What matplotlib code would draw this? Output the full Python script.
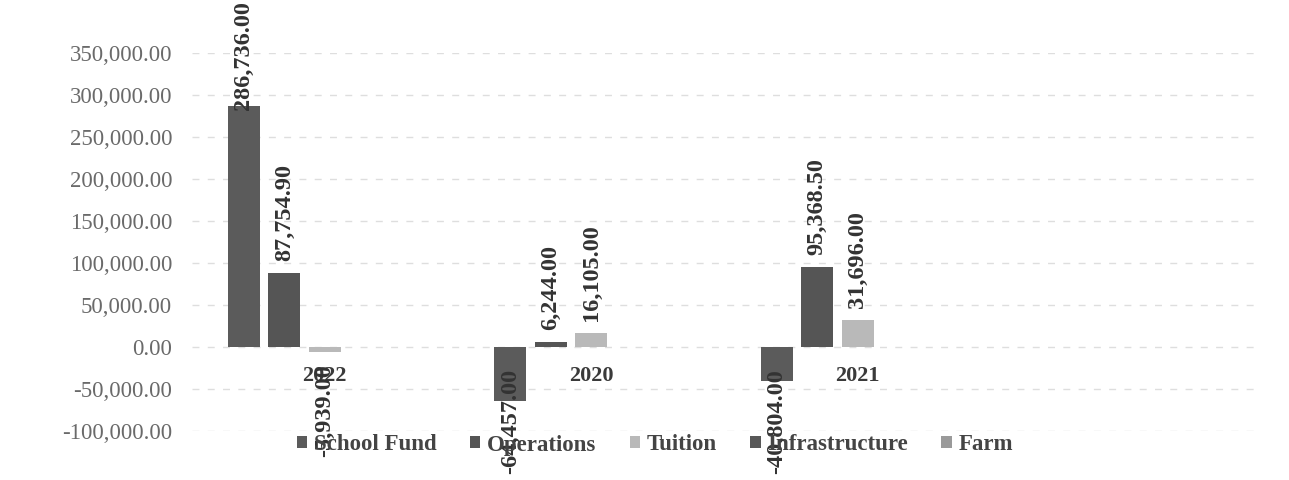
import numpy as np
import matplotlib
matplotlib.use("Agg")
import matplotlib.pyplot as plt
from matplotlib.patches import Patch
from matplotlib.ticker import FuncFormatter, MultipleLocator

# ---- data ----
categories = ["2022", "2020", "2021", ""]
series_names = ["School Fund", "Operations", "Tuition", "Infrastructure", "Farm"]
school_fund = [286736.00, -64457.00, -40804.00, np.nan]
operations = [87754.90, 6244.00, 95368.50, np.nan]
tuition = [-5939.00, 16105.00, 31696.00, np.nan]
infrastructure = [np.nan, np.nan, np.nan, np.nan]
farm = [np.nan, np.nan, np.nan, np.nan]
series_values = [school_fund, operations, tuition, infrastructure, farm]
series_colors = ["#5b5b5b", "#555555", "#b9b9b9", "#585858", "#9a9a9a"]

W, H, DPI = 1289, 480, 100
fig = plt.figure(figsize=(W / DPI, H / DPI), dpi=DPI)
fig.patch.set_facecolor("white")
ax = fig.add_axes([191.5 / W, 49 / H, 1066 / W, 378 / H])

FONT = ["Liberation Serif", "DejaVu Serif"]

x = np.arange(len(categories))
slot = 0.152
width = 0.12
offsets = (np.arange(len(series_names)) - 2) * slot

bars_all = []
for vals, off, col in zip(series_values, offsets, series_colors):
    v = np.array(vals, dtype=float)
    ax.bar(x + off, np.nan_to_num(v, nan=0.0), width=width, color=col,
           zorder=3, linewidth=0)
    bars_all.append((x + off, v))

ax.set_xlim(-0.5, len(categories) - 0.5)
ax.set_ylim(-100000, 350000)
ax.yaxis.set_major_locator(MultipleLocator(50000))
ax.yaxis.set_major_formatter(FuncFormatter(lambda v, p: f"{v:,.2f}"))

for s in ax.spines.values():
    s.set_visible(False)
ax.spines["bottom"].set_position(("data", 0))
ax.set_xticks(x)
ax.set_xticklabels(categories)
ax.tick_params(axis="x", length=0, pad=14)
ax.tick_params(axis="y", length=0, pad=14)
for lab in ax.get_xticklabels():
    lab.set_fontfamily(FONT)
    lab.set_fontsize(16)
    lab.set_fontweight("bold")
    lab.set_color("#3a3a3a")
for lab in ax.get_yticklabels():
    lab.set_fontfamily(FONT)
    lab.set_fontsize(16.5)
    lab.set_color("#6a6a6a")

ax.yaxis.grid(True, color="#dedede", linewidth=1.0, linestyle=(0, (5, 6)))
ax.set_axisbelow(True)

# ---- data labels ----
texts = []
off_pt = 12 * 72 / DPI
for xs, vs in bars_all:
    for xi, vi in zip(xs, vs):
        if np.isnan(vi):
            continue
        pos = vi >= 0
        t = ax.annotate(f"{vi:,.2f}", (xi, vi),
                        xytext=(0, off_pt if pos else -off_pt),
                        textcoords="offset points", rotation=90,
                        ha="center", va="bottom" if pos else "top",
                        fontfamily=FONT, fontsize=17.5, fontweight="bold",
                        color="#333333", zorder=5, annotation_clip=False)
        texts.append((t, pos))

fig.canvas.draw()
r = fig.canvas.get_renderer()
for t, pos in texts:
    bb = t.get_window_extent(r)
    ox, oy = t.xyann
    if bb.y1 > H - 1:
        oy -= (bb.y1 - (H - 1)) * 72 / DPI
    if bb.y0 < 6:
        oy += (6 - bb.y0) * 72 / DPI
    t.xyann = (ox, oy)

# ---- legend ----
handles = [Patch(facecolor=c, edgecolor="none") for c in series_colors]
leg = fig.legend(handles, series_names, loc="center",
                 bbox_to_anchor=(655 / W, 1 - 445 / H), ncol=5, frameon=False,
                 handlelength=0.45, handleheight=0.45, handletextpad=0.3,
                 columnspacing=1.45,
                 prop={"family": FONT, "size": 16.5, "weight": "bold"})
for txt in leg.get_texts():
    txt.set_color("#444444")

fig.savefig("out.png", dpi=DPI, facecolor="white")
